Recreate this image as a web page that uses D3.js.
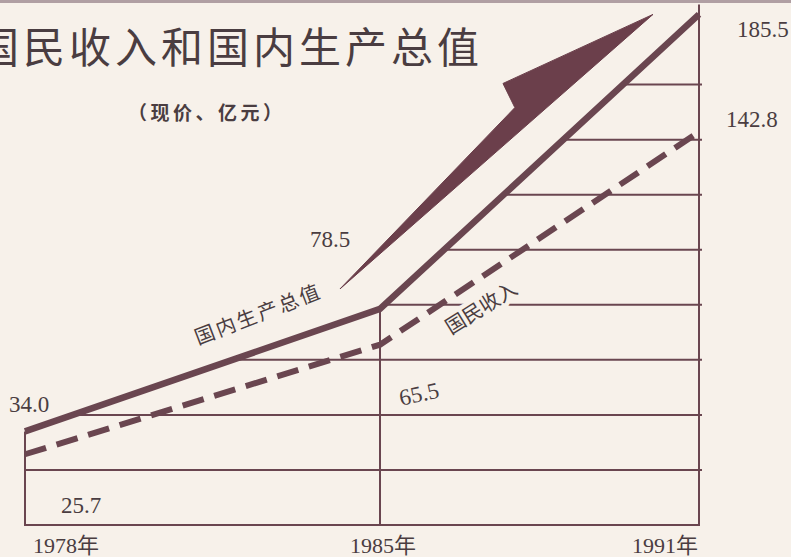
<!DOCTYPE html>
<html>
<head>
<meta charset="utf-8">
<script src="https://cdn.jsdelivr.net/npm/d3@7"></script>
<style>
  html, body { margin: 0; padding: 0; background: #f7f1ea; }
  svg { display: block; }
</style>
</head>
<body>
<svg id="chart"></svg>
<script>
// --- data
const years = [1978, 1985, 1991];
const yearLabels = ['1978年', '1985年', '1991年'];
const gdp = [34.0, 78.5, 185.5];      // 国内生产总值
const income = [25.7, 65.5, 142.8];   // 国民收入
const gridValues = [20, 40, 60, 80, 100, 120, 140, 160];
const titleText = '国民收入和国内生产总值';
const subtitleText = '（现价、亿元）';

// --- setup
const width = 791;
const height = 557;
const bg = '#f7f1ea';
const ink = '#6a4650';
const textInk = '#4a3d41';
const numFont = '"Liberation Serif", "Noto Sans CJK SC", serif';
const cjkFont = '"Noto Sans CJK SC", sans-serif';

const svg = d3.select('#chart')
  .attr('width', width)
  .attr('height', height)
  .attr('viewBox', [0, 0, width, height]);

svg.append('rect').attr('width', width).attr('height', height).attr('fill', bg);
svg.append('rect').attr('width', width).attr('height', 3).attr('fill', '#b09fa3');

// --- scales (the printed chart is not spaced evenly in time)
const x = d3.scaleLinear().domain(years).range([25, 380, 699]);
const y = d3.scaleLinear().domain([0, 190]).range([525, 2]);

const gdpPts = years.map((yr, i) => [x(yr), y(gdp[i])]);
const incPts = years.map((yr, i) => [x(yr), y(income[i])]);
const line = d3.line();

// --- clip: grid only shows below the GDP line
svg.append('clipPath')
  .attr('id', 'under-gdp')
  .append('path')
  .attr('d', d3.area().x(d => d[0]).y0(y(0)).y1(d => d[1])(
    [[gdpPts[0][0], gdpPts[0][1]], gdpPts[1], [gdpPts[2][0] + 4, gdpPts[2][1]]]));

const grid = svg.append('g')
  .attr('stroke', ink)
  .attr('stroke-width', 2);

grid.append('g')
  .attr('clip-path', 'url(#under-gdp)')
  .selectAll('line')
  .data(gridValues)
  .join('line')
    .attr('x1', x(years[0]))
    .attr('x2', x(years[2]) + 3)
    .attr('y1', d => y(d))
    .attr('y2', d => y(d));

// bottom line and the verticals
grid.append('line')
  .attr('x1', x(years[0]) - 1).attr('x2', x(years[2]) + 1)
  .attr('y1', y(0)).attr('y2', y(0));

grid.selectAll('.vert')
  .data(years)
  .join('line')
    .attr('class', 'vert')
    .attr('x1', d => x(d))
    .attr('x2', d => x(d))
    .attr('y1', y(0))
    .attr('y2', (d, i) => i === 2 ? y(gdp[i]) - 10 : y(gdp[i]));

// --- arrow (decoration running alongside the GDP rise)
const tail = [x(1985) - 40, y(gdp[1]) - 20];
const tip = [x(1991) - 46, y(gdp[2])];
const len = Math.hypot(tip[0] - tail[0], tip[1] - tail[1]);
const u = [(tip[0] - tail[0]) / len, (tip[1] - tail[1]) / len];
const n = [u[1], -u[0]];
const at = (a, p) => [tail[0] + u[0] * a + n[0] * p, tail[1] + u[1] * a + n[1] * p];
const arrow = [at(0, 0), at(251, 21), at(258, 47), at(len, 0)];

svg.append('path')
  .attr('d', line(arrow) + 'Z')
  .attr('fill', '#6b3f4b')
  .attr('stroke', '#6b3f4b')
  .attr('stroke-width', 1)
  .attr('stroke-linejoin', 'round');

// --- label for national income (with halo so it cuts the grid)
svg.append('text')
  .attr('transform', 'translate(451 335) rotate(-32)')
  .attr('font-family', cjkFont)
  .attr('font-size', 20)
  .attr('fill', textInk)
  .attr('stroke', bg)
  .attr('stroke-width', 9)
  .attr('paint-order', 'stroke')
  .text('国民收入');

// --- series lines
svg.append('path')
  .attr('d', line(incPts))
  .attr('fill', 'none')
  .attr('stroke', ink)
  .attr('stroke-width', 6)
  .attr('stroke-dasharray', '22 11');

svg.append('path')
  .attr('d', line(gdpPts))
  .attr('fill', 'none')
  .attr('stroke', ink)
  .attr('stroke-width', 6.5)
  .attr('stroke-linejoin', 'round');

svg.append('text')
  .attr('transform', 'translate(198 345) rotate(-21)')
  .attr('font-family', cjkFont)
  .attr('font-size', 20)
  .attr('letter-spacing', 2.4)
  .attr('fill', textInk)
  .text('国内生产总值');

// --- value labels
const valueLabels = [
  { v: gdp[2], yr: 1991, dx: 38, dy: 23, rot: 0 },
  { v: income[2], yr: 1991, dx: 27, dy: -5, rot: 0 },
  { v: gdp[1], yr: 1985, dx: -70, dy: -62, rot: 0 },
  { v: gdp[0], yr: 1978, dx: -16, dy: -19, rot: 0 },
  { v: income[0], yr: 1978, dx: 36, dy: 59, rot: 0 },
  { v: income[1], yr: 1985, dx: 21, dy: 61, rot: -12 }
];

svg.append('g')
  .selectAll('text')
  .data(valueLabels)
  .join('text')
    .attr('transform', d => `translate(${x(d.yr) + d.dx} ${y(d.v) + d.dy}) rotate(${d.rot})`)
    .attr('font-family', numFont)
    .attr('font-size', 23)
    .attr('fill', textInk)
    .text(d => d.v.toFixed(1));

// --- year labels
svg.append('g')
  .selectAll('text')
  .data(years)
  .join('text')
    .attr('x', (d, i) => i === 2 ? x(d) - 1 : x(d) + (i === 0 ? 8 : -30))
    .attr('y', 553)
    .attr('text-anchor', (d, i) => i === 2 ? 'end' : 'start')
    .attr('font-family', numFont)
    .attr('font-size', 22)
    .attr('fill', textInk)
    .text((d, i) => yearLabels[i]);

// --- title (the scan cuts its first character at the left edge)
svg.append('text')
  .attr('x', -23)
  .attr('y', 63)
  .attr('font-family', cjkFont)
  .attr('font-size', 42)
  .attr('letter-spacing', 4)
  .attr('fill', textInk)
  .text(titleText);

svg.append('text')
  .attr('x', 128)
  .attr('y', 120)
  .attr('font-family', cjkFont)
  .attr('font-size', 19)
  .attr('font-weight', 'bold')
  .attr('letter-spacing', 3.5)
  .attr('fill', textInk)
  .text(subtitleText);
</script>
</body>
</html>
